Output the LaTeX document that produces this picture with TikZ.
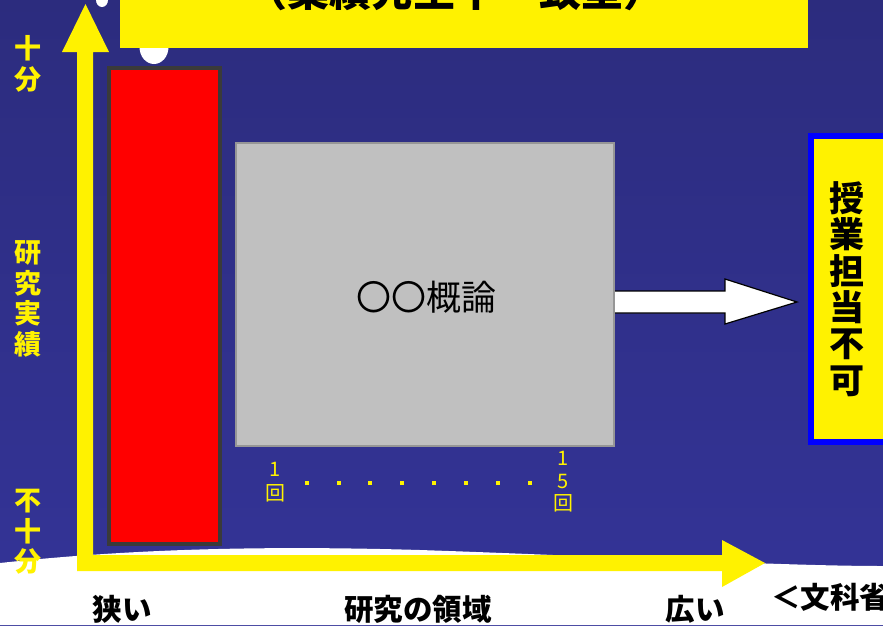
\documentclass[tikz,border=0pt]{standalone}
\usepackage{fontspec}
\setmainfont{Noto Sans CJK JP}
\definecolor{navytop}{RGB}{44,44,126}
\definecolor{navybot}{RGB}{52,52,152}
\definecolor{redborder}{RGB}{58,58,58}
\definecolor{grayfill}{RGB}{192,192,192}
\definecolor{grayline}{RGB}{150,150,150}
\tikzset{
  ylabel/.style={text=yellow, align=center, inner sep=0pt, font=\fontsize{27}{30.5}\selectfont\bfseries},
  blacklabel/.style={text=black, inner sep=0pt, font=\fontsize{29.5}{30}\selectfont\bfseries},
  countlabel/.style={text=yellow, align=center, inner sep=0pt, font=\fontsize{20}{22}\selectfont},
}
\begin{document}
\begin{tikzpicture}[x=1pt,y=-1pt]
\useasboundingbox (0,0) rectangle (883,625);
% background
\shade[top color=navytop,bottom color=navybot] (0,0) rectangle (883,625);
\fill[white] (0,563) .. controls (120,550) and (250,545) .. (420,550) .. controls (600,556) and (780,566) .. (883,566) -- (883,625) -- (0,625) -- cycle;
% white blobs
\fill[white] (102,0) ellipse (6 and 7);
\fill[white] (154,47) ellipse (14.5 and 17);
% title box
\node[fill=yellow, inner sep=0pt, minimum width=688, minimum height=48] (titlebox) at (464,24) {};
\node[inner sep=0pt, font=\fontsize{42}{42}\selectfont\bfseries] (title) at (455,-9) {（業績先生中一致型）};
% axes (L-shaped yellow arrows)
\fill[yellow] (77,571) -- (77,52) -- (62,52) -- (85.5,4) -- (109,52) -- (93,52) -- (93,555) -- (722,555) -- (722,540) -- (765,563) -- (722,587) -- (722,571) -- cycle;
% red bar
\node[draw=redborder, line width=4, fill=red, inner sep=0pt, minimum width=111, minimum height=476] (redbar) at (164.5,306) {};
% white arrow
\coordinate (arrowtip) at (797,302);
\filldraw[fill=white, draw=black, line width=1.2] (612,291) -- (725,291) -- (725,279) -- (arrowtip) -- (725,324) -- (725,313) -- (612,313) -- cycle;
% gray box
\node[draw=grayline, line width=1.5, fill=grayfill, inner sep=0pt, minimum width=378, minimum height=303] (course) at (425,294.5) {};
\node[inner sep=0pt, font=\fontsize{35}{35}\selectfont] (coursetext) at (426,297) {〇〇概論};
% right box
\node[draw=blue, line width=6, fill=yellow, inner sep=0pt, minimum width=90, minimum height=306] (nogo) at (856,289) {};
\node[align=center, inner sep=0pt, font=\fontsize{35}{36.3}\selectfont\bfseries] (nogotext) at (847,289) {授\\業\\担\\当\\不\\可};
% left labels
\node[ylabel] (enough) at (28,64) {十\\分};
\node[ylabel] (achv) at (28,299) {研\\究\\実\\績};
\node[ylabel] (notenough) at (28,532) {不\\十\\分};
% count labels
\node[countlabel, font=\fontsize{20}{24}\selectfont] (first) at (275,482) {1\\回};
\node[countlabel, font=\fontsize{20}{22.5}\selectfont] (last) at (563,482) {1\\5\\回};
\foreach \x in {307,338.5,370,402,434,466,498,530}
  \fill[yellow] (\x-2,481) rectangle (\x+2,485);
% bottom labels
\node[blacklabel] (narrow) at (122,609) {狭い};
\node[blacklabel] (field) at (418,609) {研究の領域};
\node[blacklabel] (wide) at (695,609) {広い};
\node[blacklabel, anchor=west] (mext) at (771,597) {＜文科省};
\end{tikzpicture}
\end{document}
